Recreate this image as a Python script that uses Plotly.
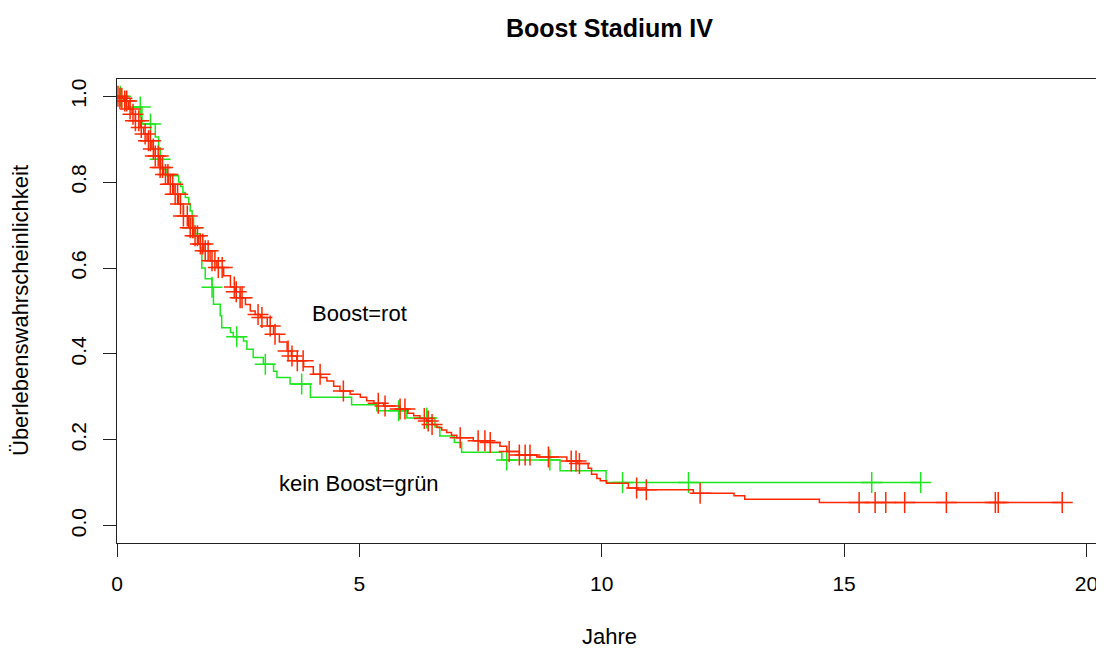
import numpy as np
import plotly.graph_objects as go

# Kaplan-Meier: Boost (rot) - Stufenzeitpunkte und Überleben nach der Stufe
boost_zeit = [0.05, 0.14, 0.24, 0.31, 0.38, 0.48, 0.55, 0.62, 0.72, 0.79, 0.89, 0.96,
              1.06, 1.17, 1.27, 1.37, 1.48, 1.58, 1.68, 1.79, 1.92, 2.06, 2.2, 2.34,
              2.45, 2.54, 2.65, 2.75, 2.85, 2.96, 3.1, 3.23, 3.35, 3.51, 3.6, 3.71,
              3.85, 4.05, 4.2, 4.33, 4.47, 4.6, 4.81, 5.02, 5.15, 5.3, 5.5, 5.84,
              6.0, 6.12, 6.25, 6.39, 6.5, 6.6, 6.7, 6.8, 6.9, 7.01, 7.35, 7.7,
              7.9, 8.04, 8.3, 8.66, 9.28, 9.5, 9.72, 9.79, 9.9, 9.97, 10.1, 10.55,
              10.75, 11.89, 12.73, 12.95, 14.49]
boost_surv = [0.995, 0.989, 0.97, 0.958, 0.943, 0.927, 0.912, 0.896, 0.877, 0.861, 0.834, 0.818,
              0.795, 0.772, 0.749, 0.721, 0.694, 0.675, 0.656, 0.64, 0.617, 0.601, 0.582, 0.556,
              0.545, 0.531, 0.515, 0.50, 0.492, 0.485, 0.465, 0.446, 0.428, 0.407, 0.395, 0.384,
              0.37, 0.353, 0.345, 0.337, 0.325, 0.314, 0.306, 0.299, 0.291, 0.285, 0.279, 0.272,
              0.262, 0.256, 0.25, 0.244, 0.236, 0.229, 0.223, 0.217, 0.211, 0.205, 0.198, 0.194,
              0.185, 0.173, 0.165, 0.16, 0.151, 0.145, 0.134, 0.12, 0.11, 0.105, 0.099, 0.088,
              0.084, 0.076, 0.070, 0.062, 0.054]
boost_ende = 19.5
boost_zensiert = [0.02, 0.06, 0.1, 0.16, 0.2, 0.27, 0.33, 0.38, 0.45, 0.5, 0.58, 0.65, 0.69,
                  0.75, 0.79, 0.85, 0.89, 0.94, 1.0, 1.05, 1.1, 1.15, 1.2, 1.25, 1.31, 1.37,
                  1.45, 1.51, 1.56, 1.61, 1.66, 1.72, 1.77, 1.82, 1.88, 1.96, 2.02, 2.09,
                  2.17, 2.42, 2.46, 2.54, 2.58, 2.91, 2.99, 3.16, 3.26, 3.53, 3.61, 3.72,
                  3.84, 4.19, 4.67, 5.39, 5.53, 5.84, 5.94, 6.34, 6.42, 6.5, 7.08, 7.45,
                  7.59, 7.7, 8.09, 8.3, 8.42, 8.52, 8.9, 9.37, 9.47, 9.54, 10.72, 10.92,
                  12.03, 15.31, 15.64, 15.86, 16.25, 17.11, 18.12, 18.18, 19.5]

# kein Boost (grün)
kein_zeit = [0.17, 0.515, 0.79, 0.86, 0.89, 0.93, 1.03, 1.27, 1.31, 1.36, 1.41, 1.48,
             1.51, 1.55, 1.62, 1.72, 1.75, 1.82, 1.96, 1.99, 2.13, 2.16, 2.34, 2.4,
             2.61, 2.68, 2.81, 3.02, 3.23, 3.30, 3.57, 3.99, 4.84, 5.36, 5.98, 6.56,
             6.66, 6.96, 7.11, 7.94, 9.14, 10.09]
kein_surv = [0.975, 0.935, 0.905, 0.88, 0.853, 0.83, 0.815, 0.80, 0.79, 0.776, 0.764, 0.749,
             0.733, 0.694, 0.68, 0.648, 0.60, 0.575, 0.555, 0.516, 0.489, 0.461, 0.45, 0.44,
             0.43, 0.411, 0.392, 0.376, 0.36, 0.345, 0.33, 0.299, 0.282, 0.268, 0.251, 0.23,
             0.209, 0.194, 0.171, 0.153, 0.128, 0.101]
kein_ende = 16.58
kein_zensiert = [0.07, 0.48, 0.69, 0.89, 1.58, 1.96, 2.47, 3.06, 3.81, 5.81, 6.39, 8.04,
                 8.93, 10.43, 11.79, 15.57, 16.58]

ROT = "rgb(255,40,0)"
GRUEN = "rgb(30,230,30)"


def stufen(zeit, surv, ende):
    return [0.0] + zeit + [ende], [1.0] + surv + [surv[-1]]


def surv_bei(zeit, surv, t):
    idx = np.searchsorted(zeit, t, side="right")
    return [1.0 if i == 0 else surv[i - 1] for i in idx]


fig = go.Figure()
for zeit, surv, ende, zens, farbe in [
    (kein_zeit, kein_surv, kein_ende, kein_zensiert, GRUEN),
    (boost_zeit, boost_surv, boost_ende, boost_zensiert, ROT),
]:
    x, y = stufen(zeit, surv, ende)
    fig.add_trace(go.Scatter(x=x, y=y, mode="lines", line=dict(color=farbe, width=1.5, shape="hv"),
                             hoverinfo="skip"))
    fig.add_trace(go.Scatter(x=zens, y=surv_bei(zeit, surv, zens), mode="markers",
                             marker=dict(symbol="cross-thin", size=15, line=dict(color=farbe, width=1.5)),
                             hoverinfo="skip"))

schrift = dict(family="Liberation Sans, Arial, sans-serif", color="black")
achse = dict(showgrid=False, zeroline=False, showline=True, mirror=True, linecolor="#222", linewidth=1,
             ticks="outside", ticklen=13, tickcolor="#222", tickwidth=1,
             tickfont=dict(size=21, **schrift), ticklabelstandoff=9)

# die Seite hat 8px Rand, daher etwas kleiner
fig.update_layout(
    width=1096, height=640,
    margin=dict(l=109, r=3, t=71, b=105),
    plot_bgcolor="white", paper_bgcolor="white",
    showlegend=False,
    xaxis=dict(range=[0, 20.3], tickvals=[0, 5, 10, 15, 20], **achse),
    yaxis=dict(range=[-0.04, 1.04], tickvals=[0, 0.2, 0.4, 0.6, 0.8, 1.0], tickformat=".1f",
               tickangle=-90, **achse),
    annotations=[
        dict(text="<b>Boost Stadium IV</b>", xref="paper", yref="paper", x=0.5, y=1, yshift=79 - 28,
             showarrow=False, font=dict(size=25, **schrift), yanchor="middle"),
        dict(text="Jahre", xref="paper", yref="paper", x=0.5, y=0, yshift=-93,
             showarrow=False, font=dict(size=22, **schrift), yanchor="middle"),
        dict(text="Überlebenswahrscheinlichkeit", xref="paper", yref="paper", x=0, y=0.5, xshift=-97,
             textangle=-90, showarrow=False, font=dict(size=22, **schrift), xanchor="center"),
        dict(text="Boost=rot", x=5, y=0.495, showarrow=False, font=dict(size=22, **schrift)),
        dict(text="kein Boost=grün", x=5, y=0.098, showarrow=False, font=dict(size=22, **schrift)),
    ],
)

fig.write_html("out.html")
